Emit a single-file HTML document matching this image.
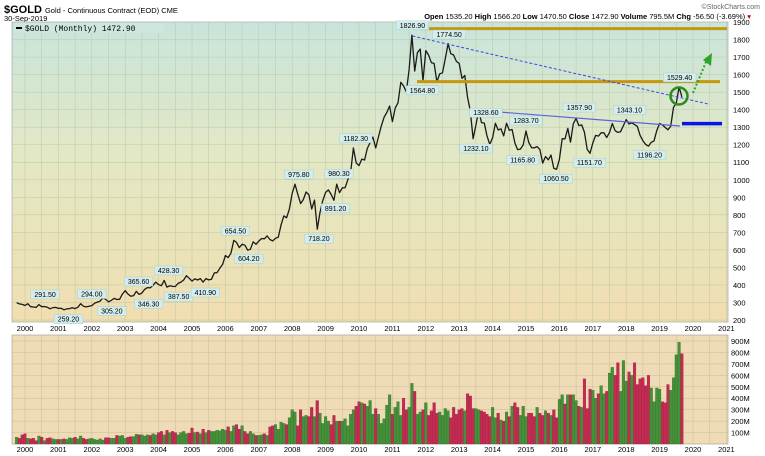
<!DOCTYPE html>
<html><head><meta charset="utf-8"><style>
body{margin:0;background:#fff;font-family:"Liberation Sans",sans-serif;}
svg{display:block}
</style></head><body>
<svg id="c" width="765" height="456" xmlns="http://www.w3.org/2000/svg">
<defs>
<linearGradient id="bg" x1="0" y1="0" x2="0" y2="1">
<stop offset="0" stop-color="#c9e4dc"/><stop offset="0.45" stop-color="#e3e8c4"/><stop offset="1" stop-color="#f1deb0"/>
</linearGradient>
</defs>
<text x="4" y="13" font-size="11" font-weight="bold" fill="#000">$GOLD <tspan font-size="7.5" font-weight="normal">Gold - Continuous Contract (EOD) CME</tspan></text>
<text x="4" y="21" font-size="7.5" fill="#000">30-Sep-2019</text>
<text x="760" y="9" font-size="7" fill="#666" text-anchor="end">©StockCharts.com</text>
<text x="751" y="19" font-size="7.5" fill="#000" text-anchor="end"><tspan font-weight="bold">Open</tspan> 1535.20 <tspan font-weight="bold">High</tspan> 1566.20 <tspan font-weight="bold">Low</tspan> 1470.50 <tspan font-weight="bold">Close</tspan> 1472.90 <tspan font-weight="bold">Volume</tspan> 795.5M <tspan font-weight="bold">Chg</tspan> -56.50 (-3.69%) <tspan fill="#c00">▾</tspan></text>
<rect x="12" y="22" width="716" height="300" fill="url(#bg)" stroke="#999" stroke-width="0.6"/>
<rect x="12" y="335" width="716" height="109" fill="#efdbb5" stroke="#999" stroke-width="0.6"/>
<g id="grid"></g>
<g id="marks"></g>
<g id="ann"></g>
<g id="labels"></g>
<rect x="14" y="23" width="150" height="10" fill="#cde6df"/>
<line x1="16" y1="28" x2="22" y2="28" stroke="#000" stroke-width="2"/>
<text x="25" y="31" font-size="8" font-family="Liberation Mono,monospace" fill="#000">$GOLD (Monthly) 1472.90</text>
</svg>
<script>
const startYear = 1999.75;
const closes = [299,292,289,
283,293,276,274,272,288,276,277,273,264,270,272,
266,267,258,264,265,270,265,273,293,279,275,279,
282,296,302,308,326,318,304,312,323,317,318,348,
368,348,336,339,364,346,354,375,385,384,398,416,
402,396,426,388,395,392,391,409,416,428,453,438,
422,435,428,436,416,436,429,433,469,470,495,517,
568,556,582,654,643,613,632,627,598,604,646,632,
650,665,663,680,659,651,666,673,743,794,783,834,
923,975,917,864,887,930,914,833,884,718,814,882,
928,942,916,883,975,926,954,955,1001,1040,1182,1096,
1081,1118,1113,1179,1212,1244,1181,1246,1307,1357,1384,1421,
1332,1409,1439,1556,1536,1502,1628,1825,1620,1725,1746,1566,
1737,1711,1668,1664,1559,1604,1610,1692,1776,1719,1712,1675,
1663,1578,1595,1472,1393,1234,1312,1395,1326,1323,1250,1202,
1240,1322,1284,1291,1250,1322,1282,1287,1210,1172,1175,1199,
1278,1212,1183,1182,1189,1172,1095,1132,1114,1141,1065,1060,
1116,1234,1233,1293,1215,1320,1350,1309,1313,1272,1173,1151,
1210,1253,1249,1268,1268,1241,1269,1321,1280,1270,1274,1309,
1343,1318,1325,1315,1305,1253,1223,1201,1192,1214,1222,1281,
1321,1313,1298,1285,1305,1413,1437,1529,1473];
const volumes = [60,50,80,
90,50,45,50,30,70,60,30,50,55,45,40,
40,40,45,40,55,50,60,45,70,50,40,45,
50,40,35,45,35,55,55,50,50,75,70,75,
50,60,65,65,85,80,80,70,80,75,90,80,
100,110,80,120,100,110,100,80,100,110,90,95,
140,100,105,90,130,100,120,110,110,120,115,130,
120,150,110,160,170,130,160,110,90,110,90,75,
75,80,90,75,150,160,170,130,190,180,170,230,
300,280,160,300,240,250,240,320,240,380,270,180,
240,200,170,250,200,200,200,220,160,260,300,330,
370,360,350,330,380,260,310,260,180,220,340,430,
260,320,370,250,400,300,320,530,460,260,280,300,
360,250,290,360,270,280,250,310,290,230,320,260,
300,310,290,440,420,310,310,300,290,280,260,240,
320,230,270,210,200,280,240,330,360,320,250,330,
240,270,270,240,320,270,250,290,270,250,300,230,
390,430,350,430,430,430,380,330,320,570,310,480,
470,400,440,510,440,460,620,670,600,710,460,730,
550,630,600,710,520,570,580,510,600,490,370,490,
480,370,360,520,470,580,780,890,790];
const yearTicks = [2000,2001,2002,2003,2004,2005,2006,2007,2008,2009,2010,2011,2012,2013,2014,2015,2016,2017,2018,2019,2020,2021];
const priceTicks = [200,300,400,500,600,700,800,900,1000,1100,1200,1300,1400,1500,1600,1700,1800,1900];
const volTicks = [100,200,300,400,500,600,700,800,900];
const peakLabels = [["291.50",2000.6,291.5,1],["259.20",2001.3,259.2,-1],["294.00",2002.0,294,1],["305.20",2002.6,305.2,-1],["365.60",2003.4,365.6,1],["346.30",2003.7,346.3,-1],["428.30",2004.3,428.3,1],["387.50",2004.6,387.5,-1],["410.90",2005.4,410.9,-1],["654.50",2006.3,654.5,1],["604.20",2006.7,604.2,-1],["975.80",2008.2,975.8,1],["718.20",2008.8,718.2,-1],["891.20",2009.3,891.2,-1],["980.30",2009.4,980.3,1],["1182.30",2009.9,1182.3,1],["1826.90",2011.6,1826.9,1],["1564.80",2011.9,1564.8,-1],["1774.50",2012.7,1774.5,1],["1232.10",2013.5,1232.1,-1],["1328.60",2013.8,1328.6,1],["1165.80",2014.9,1165.8,-1],["1283.70",2015.0,1283.7,1],["1060.50",2015.9,1060.5,-1],["1357.90",2016.6,1357.9,1],["1151.70",2016.9,1151.7,-1],["1343.10",2018.1,1343.1,1],["1196.20",2018.7,1196.2,-1],["1529.40",2019.6,1529.4,1]];

const NS="http://www.w3.org/2000/svg";
const X = t => 25 + (t-2000)*33.4;
const Y = v => 22 + (1900-v)*0.1753;
const VY = v => 444 - v*0.1144;
function mk(tag, attrs, parent){const e=document.createElementNS(NS,tag);for(const k in attrs)e.setAttribute(k,attrs[k]);parent.appendChild(e);return e;}
const grid=document.getElementById('grid'), marks=document.getElementById('marks'), ann=document.getElementById('ann'), lab=document.getElementById('labels');
for(let t=1999.5;t<=2021.4;t+=0.5){const x=X(t);if(x<12||x>728)continue;
 let g=mk('line',{x1:x,y1:22,x2:x,y2:322,stroke:'#b8c8a8','stroke-width':0.5},grid);
 
 
 let h=mk('line',{x1:x,y1:335,x2:x,y2:444,stroke:'#c9bc9c','stroke-width':0.5},grid);
 
 }
priceTicks.forEach(p=>{const y=Y(p);
 let g=mk('line',{x1:12,y1:y,x2:728,y2:y,stroke:'#b8c8a8','stroke-width':0.5},grid);
 
 
 let t=mk('text',{x:733,y:y+3,'font-size':7.5,fill:'#000'},lab);t.textContent=p;
 
 });
volTicks.forEach(v=>{const y=VY(v*1);
 let g=mk('line',{x1:12,y1:y,x2:728,y2:y,stroke:'#c9bc9c','stroke-width':0.5},grid);
 
 
 let t=mk('text',{x:731,y:y+3,'font-size':7.5,fill:'#000'},lab);t.textContent=v+'M';
 
 });
yearTicks.forEach(yr=>{[331,452].forEach(yy=>{
 let t=mk('text',{x:X(yr),y:yy,'font-size':7.5,fill:'#000','text-anchor':'middle'},lab);t.textContent=yr;
 
 });});
volumes.forEach((v,i)=>{const t=startYear+i/12;const up=i===0||closes[i]>=closes[i-1];
 const y=VY(v);
 let b=mk('rect',{x:X(t)-1.35,y:y,width:2.7,height:444-y,fill:up?'#45903a':'#c42a52',stroke:up?'#2f6e25':'#962040','stroke-width':0.3},marks);
 
 });
let d=closes.map((c,i)=>(i?'L':'M')+X(startYear+i/12).toFixed(1)+','+Y(c).toFixed(1)).join('');
let pl=mk('path',{d:d,fill:'none',stroke:'#1a1a1a','stroke-width':1.3,'stroke-linejoin':'round'},marks);


function A(tag,attrs,name){const e=mk(tag,attrs,ann);return e;}
A('line',{x1:420,y1:Y(1862),x2:727,y2:Y(1862),stroke:'#c8960a','stroke-width':3},'resistance-line-1860');
A('line',{x1:417,y1:Y(1560),x2:720,y2:Y(1560),stroke:'#c8960a','stroke-width':3},'resistance-line-1560');
A('line',{x1:X(2011.6),y1:Y(1820),x2:708,y2:104,stroke:'#3a48e8','stroke-width':1,'stroke-dasharray':'3,2'},'dashed-trendline');
A('line',{x1:480,y1:Y(1395),x2:680,y2:126,stroke:'#5a64e0','stroke-width':1.2},'neckline');
A('line',{x1:682,y1:Y(1320),x2:722,y2:Y(1320),stroke:'#0a14e8','stroke-width':3.5},'support-bar');
A('circle',{cx:679,cy:96,r:8.5,fill:'none',stroke:'#2f8a1c','stroke-width':2.5},'breakout-circle');
A('line',{x1:693,y1:93,x2:706,y2:62,stroke:'#2aa52a','stroke-width':2,'stroke-dasharray':'2,2'},'target-arrow-shaft');
A('polygon',{points:'703,60 712,53 711,66',fill:'#2aa52a'},'target-arrow-head');
peakLabels.forEach(([txt,t,v,dir])=>{const x=X(t),y=Y(v);const w=txt.length*4.1+4;
 const by=dir>0?y-14:y+5;
 const r=mk('rect',{x:x-w/2,y:by,width:w,height:9,fill:'#d4ecec',stroke:'#9cc','stroke-width':0.4},lab);
 
 
 const tx=mk('text',{x:x,y:by+7,'font-size':7,fill:'#000','text-anchor':'middle'},lab);tx.textContent=txt;
 
 });
</script>
</body></html>
